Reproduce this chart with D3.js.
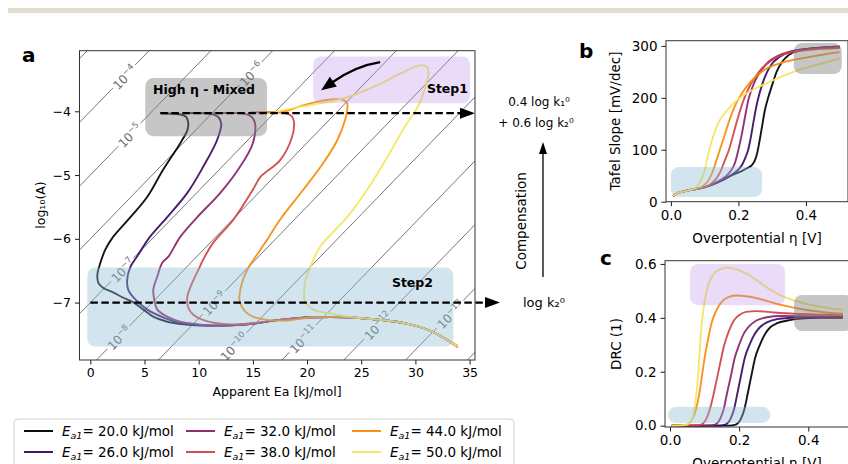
<!DOCTYPE html>
<html>
<head>
<meta charset="utf-8">
<script src="https://cdnjs.cloudflare.com/ajax/libs/d3/7.8.5/d3.min.js"></script>
<style>
  body { margin: 0; background: #fff; }
  text { font-family: "DejaVu Sans", sans-serif; }
</style>
</head>
<body>
<svg id="fig" width="848" height="464"></svg>
<script>
// ---------------- data ----------------
var ea1Values = [20, 26, 32, 38, 44, 50];

// panel a : apparent Ea [kJ/mol] vs log10(A), traced from high eta end to low eta end
var tailA = [[10.8,-7.36],[14.5,-7.34],[17.5,-7.27],[20.6,-7.23],[23.7,-7.23],[26.75,-7.27],[29.2,-7.33],[31.5,-7.45],[33.9,-7.69]];
var compA20 = [[6.46,-4.03],[8.3,-4.05],[8.86,-4.09],[9.04,-4.19],[8.95,-4.3],[8.3,-4.5],[6.7,-4.92],[5.26,-5.34],[3.7,-5.66],[2.1,-5.97],[1.38,-6.17],[0.92,-6.38],[0.65,-6.56],[0.74,-6.69],[1.2,-6.77],[2.1,-6.84],[3.0,-6.92],[4.0,-7.0],[4.9,-7.11],[5.8,-7.22],[7.1,-7.3],[8.6,-7.34]].concat(tailA);
var compA26 = [[8.76,-4.03],[11.07,-4.04],[11.8,-4.09],[12.08,-4.19],[11.7,-4.45],[10.4,-4.875],[8.95,-5.28],[7.1,-5.66],[5.5,-5.97],[4.3,-6.28],[3.7,-6.44],[3.4,-6.64],[3.5,-6.8],[4.15,-6.95],[5.26,-7.11],[6.7,-7.23],[8.6,-7.33]].concat(tailA);
var compA32 = [[11.35,-4.03],[14.3,-4.04],[14.9,-4.09],[15.2,-4.19],[15.0,-4.5],[13.8,-4.875],[12.0,-5.28],[9.87,-5.66],[8.3,-5.97],[7.2,-6.28],[6.64,-6.375],[6.18,-6.59],[5.81,-6.8],[5.9,-6.95],[6.18,-7.11],[7.1,-7.22],[8.3,-7.3],[9.87,-7.34]].concat(tailA);
var compA38 = [[14.76,-4.02],[17.99,-4.03],[18.6,-4.08],[18.8,-4.17],[18.6,-4.41],[17.5,-4.77],[15.7,-5.03],[15.0,-5.23],[13.2,-5.7],[11.35,-6.06],[10.4,-6.33],[10.1,-6.44],[9.4,-6.69],[8.95,-6.91],[9.04,-7.08],[9.5,-7.19],[10.4,-7.27],[12.0,-7.33],[13.8,-7.34]].concat(tailA.slice(2));
var compA44 = [[16.1,-4.02],[18.0,-4.0],[19.4,-3.92],[21.2,-3.84],[23.1,-3.81],[23.7,-3.875],[23.7,-3.98],[23.5,-4.14],[22.8,-4.45],[21.5,-4.81],[19.65,-5.23],[17.5,-5.7],[16.3,-6.02],[15.7,-6.17],[14.5,-6.48],[14.0,-6.69],[13.75,-6.91],[13.8,-7.0],[14.3,-7.14],[15.0,-7.22],[16.3,-7.27],[18.2,-7.28]].concat(tailA.slice(3));
var compA50 = [[17.07,-4.01],[18.7,-3.95],[21.2,-3.875],[23.7,-3.78],[26.5,-3.59],[28.6,-3.41],[30.4,-3.28],[31.1,-3.31],[31.2,-3.41],[30.9,-3.625],[30.2,-3.94],[29.2,-4.19],[27.4,-4.72],[25.55,-5.23],[23.7,-5.66],[21.2,-6.125],[20.3,-6.44],[19.8,-6.69],[19.74,-6.84],[19.8,-6.98],[20.6,-7.11],[22.1,-7.17],[23.7,-7.22],[26.75,-7.27],[29.2,-7.33],[31.5,-7.45],[33.9,-7.69]];

// iso-rate lines log10 k, and where their labels sit (Ea)
var isoLevels = [-3, -4, -5, -6, -7, -8, -9, -10, -11, -12, -13, -14];
var isoLabelLevels = [-4, -5, -6, -7, -8, -9, -10, -11, -12, -13];
var isoLabelEa = [3.1, 3.6, 14.8, 2.95, 2.6, 11.4, 13.2, 19.6, 26.5, 33.2];

// panel b : Tafel slope [mV/dec] vs overpotential [V]
var tafel20 = [[0.007,11],[0.02,17],[0.04,20],[0.06,23],[0.08,25],[0.106,29],[0.13,35],[0.155,42],[0.175,49],[0.195,55],[0.21,59],[0.224,64],[0.239,70],[0.249,80],[0.256,95],[0.262,115],[0.27,145],[0.278,175],[0.288,200],[0.3,225],[0.313,250],[0.33,270],[0.35,283],[0.38,291],[0.42,295],[0.46,297],[0.5,298]];
var tafel26 = [[0.007,11],[0.02,17],[0.04,20],[0.06,23],[0.08,25],[0.106,29],[0.13,35],[0.155,43],[0.175,50],[0.19,56],[0.2,62],[0.21,70],[0.22,84],[0.229,100],[0.237,125],[0.245,155],[0.252,180],[0.259,200],[0.27,225],[0.285,250],[0.3,266],[0.32,278],[0.35,288],[0.4,294],[0.45,297],[0.5,299]];
var tafel32 = [[0.007,11],[0.02,17],[0.04,20],[0.06,23],[0.08,25],[0.106,29],[0.13,36],[0.15,43],[0.165,50],[0.178,60],[0.19,75],[0.2,100],[0.21,130],[0.22,165],[0.229,195],[0.24,218],[0.255,240],[0.27,255],[0.29,270],[0.32,282],[0.36,290],[0.42,295],[0.5,298]];
var tafel38 = [[0.007,11],[0.02,17],[0.04,20],[0.06,23],[0.08,25],[0.106,29],[0.12,35],[0.135,45],[0.148,60],[0.16,80],[0.172,100],[0.185,130],[0.2,165],[0.215,195],[0.23,218],[0.25,240],[0.27,257],[0.3,273],[0.34,285],[0.4,292],[0.5,296]];
var tafel44 = [[0.007,11],[0.02,17],[0.04,20],[0.06,23],[0.08,25],[0.095,30],[0.11,40],[0.125,60],[0.135,80],[0.145,100],[0.16,130],[0.175,160],[0.19,185],[0.205,203],[0.225,222],[0.25,240],[0.28,255],[0.32,266],[0.37,274],[0.43,281],[0.5,288]];
var tafel50 = [[0.007,11],[0.02,17],[0.04,20],[0.06,23],[0.075,28],[0.09,42],[0.1,60],[0.11,90],[0.12,115],[0.13,135],[0.145,157],[0.165,175],[0.19,192],[0.215,205],[0.25,218],[0.29,230],[0.33,242],[0.38,254],[0.44,265],[0.5,276]];

// panel c : degree of rate control vs overpotential [V]
var drc20 = [[0.005,0],[0.17,0],[0.19,0.004],[0.205,0.025],[0.215,0.06],[0.225,0.12],[0.236,0.19],[0.246,0.25],[0.26,0.3],[0.275,0.34],[0.29,0.365],[0.31,0.38],[0.34,0.39],[0.38,0.397],[0.43,0.4],[0.5,0.4]];
var drc26 = [[0.005,0],[0.14,0],[0.16,0.004],[0.175,0.025],[0.185,0.06],[0.195,0.12],[0.206,0.19],[0.216,0.25],[0.23,0.3],[0.245,0.34],[0.26,0.365],[0.28,0.383],[0.31,0.395],[0.35,0.4],[0.4,0.402],[0.5,0.402]];
var drc32 = [[0.005,0],[0.11,0],[0.13,0.004],[0.145,0.025],[0.155,0.06],[0.165,0.12],[0.177,0.19],[0.187,0.25],[0.2,0.3],[0.215,0.345],[0.23,0.37],[0.25,0.39],[0.28,0.402],[0.32,0.407],[0.38,0.406],[0.5,0.404]];
var drc38 = [[0.005,0],[0.07,0],[0.09,0.004],[0.105,0.025],[0.115,0.06],[0.125,0.11],[0.135,0.17],[0.145,0.23],[0.157,0.3],[0.17,0.35],[0.185,0.39],[0.2,0.41],[0.22,0.422],[0.25,0.425],[0.3,0.42],[0.36,0.415],[0.43,0.412],[0.5,0.41]];
var drc44 = [[0.005,0],[0.03,0],[0.05,0.004],[0.065,0.025],[0.075,0.06],[0.085,0.12],[0.093,0.19],[0.1,0.25],[0.11,0.32],[0.12,0.38],[0.135,0.43],[0.15,0.46],[0.17,0.478],[0.195,0.483],[0.22,0.48],[0.26,0.47],[0.3,0.455],[0.35,0.44],[0.4,0.428],[0.45,0.42],[0.5,0.415]];
var drc50 = [[0.005,0],[0.03,0.001],[0.05,0.005],[0.06,0.015],[0.068,0.04],[0.075,0.1],[0.08,0.17],[0.086,0.28],[0.092,0.38],[0.1,0.46],[0.11,0.52],[0.125,0.56],[0.145,0.58],[0.165,0.587],[0.19,0.581],[0.22,0.565],[0.25,0.54],[0.28,0.513],[0.31,0.49],[0.35,0.468],[0.4,0.45],[0.45,0.438],[0.5,0.43]];

var compA = [compA20, compA26, compA32, compA38, compA44, compA50];
var tafel = [tafel20, tafel26, tafel32, tafel38, tafel44, tafel50];
var drc = [drc20, drc26, drc32, drc38, drc44, drc50];

// ---------------- drawing ----------------
var colors = ea1Values.map(function(d, i) { return d3.interpolateInferno(i * 0.186); });
var svg = d3.select('#fig');

// thin beige strip at the top
svg.append('rect').attr('x', 8).attr('y', 8).attr('width', 840).attr('height', 5).attr('fill', '#e2ddcc');

function drawAxes(g, x, y, xticks, yticks, xfmt, yfmt, fs) {
    var xr = x.range(), yr = y.range();
    var ax = g.append('g').attr('transform', 'translate(0,' + yr[0] + ')')
        .call(d3.axisBottom(x).tickValues(xticks).tickFormat(xfmt).tickSize(4.5).tickPadding(4));
    var ay = g.append('g').attr('transform', 'translate(' + xr[0] + ',0)')
        .call(d3.axisLeft(y).tickValues(yticks).tickFormat(yfmt).tickSize(4.5).tickPadding(4));
    [ax, ay].forEach(function(a) {
        a.select('.domain').remove();
        a.attr('font-size', fs).attr('font-family', 'DejaVu Sans');
        a.selectAll('line').attr('stroke', '#000').attr('stroke-width', 0.9);
    });
    g.append('rect')
        .attr('x', xr[0]).attr('y', yr[1])
        .attr('width', xr[1] - xr[0]).attr('height', yr[0] - yr[1])
        .attr('fill', 'none').attr('stroke', '#333').attr('stroke-width', 1);
}

function roundBox(g, x, y, x0, x1, y0, y1, fill, op) {
    g.append('rect')
        .attr('x', x(x0)).attr('y', y(y1))
        .attr('width', x(x1) - x(x0)).attr('height', y(y0) - y(y1))
        .attr('rx', 8).attr('ry', 8)
        .attr('fill', fill).attr('fill-opacity', op);
}

function arrowHead(g, tip, dir, len, half) {
    var n = Math.hypot(dir[0], dir[1]), ux = dir[0] / n, uy = dir[1] / n;
    var bx = tip[0] - ux * len, by = tip[1] - uy * len;
    g.append('path')
        .attr('d', 'M' + tip[0] + ',' + tip[1] +
            'L' + (bx - uy * half) + ',' + (by + ux * half) +
            'L' + (bx + uy * half) + ',' + (by - ux * half) + 'Z')
        .attr('fill', '#000');
}

// ---------- panel a ----------
var xA = d3.scaleLinear().domain([-1, 35.5]).range([79.5, 475]);
var yA = d3.scaleLinear().domain([-7.9, -3.05]).range([360, 50.7]);
var gA = svg.append('g');
svg.append('clipPath').attr('id', 'clipA').append('rect')
    .attr('x', 79.5).attr('y', 50.7).attr('width', 395.5).attr('height', 309.3);
var plotA = gA.append('g').attr('clip-path', 'url(#clipA)');

// iso-rate lines: log k = log A - Ea/(ln10 R T), T = 298 K
var sIso = 1 / (Math.LN10 * 0.008314 * 298);
isoLevels.forEach(function(L) {
    var p0 = [xA(-1), yA(L - sIso)], p1 = [xA(35.5), yA(L + 35.5 * sIso)];
    var dx = p1[0] - p0[0], dy = p1[1] - p0[1], n = Math.hypot(dx, dy);
    var ux = dx / n, uy = dy / n;
    var li = isoLabelLevels.indexOf(L);
    var segs = [[p0, p1]];
    if (li >= 0) {
        var e = isoLabelEa[li];
        var pc = [xA(e), yA(L + e * sIso)];
        var gap = L <= -10 ? 19 : 16;
        segs = [[p0, [pc[0] - ux * gap, pc[1] - uy * gap]], [[pc[0] + ux * gap, pc[1] + uy * gap], p1]];
        var ang = Math.atan2(uy, ux) * 180 / Math.PI;
        var t = plotA.append('text')
            .attr('transform', 'translate(' + pc[0] + ',' + pc[1] + ') rotate(' + ang + ')')
            .attr('text-anchor', 'middle').attr('dy', '0.45em')
            .attr('font-size', 12).attr('fill', '#6f6f6f');
        t.append('tspan').text('10');
        t.append('tspan').attr('font-size', 8.5).attr('dy', -5).text('\u2212' + Math.abs(L));
    }
    segs.forEach(function(sg) {
        plotA.append('line')
            .attr('x1', sg[0][0]).attr('y1', sg[0][1]).attr('x2', sg[1][0]).attr('y2', sg[1][1])
            .attr('stroke', '#777').attr('stroke-width', 1);
    });
});

var lineA = d3.line().x(function(d) { return xA(d[0]); }).y(function(d) { return yA(d[1]); })
    .curve(d3.curveCatmullRom.alpha(0.5));
compA.forEach(function(c, i) {
    plotA.append('path').datum(c).attr('d', lineA)
        .attr('fill', 'none').attr('stroke', colors[i]).attr('stroke-width', 1.9).attr('stroke-opacity', 0.92);
});

// shaded regions
roundBox(gA, xA, yA, 5.07, 16.3, -4.39, -3.48, '#808080', 0.45);
roundBox(gA, xA, yA, 20.56, 35.05, -3.875, -3.14, '#b98ce8', 0.3);
roundBox(gA, xA, yA, -0.28, 33.5, -7.69, -6.45, '#8fbcd4', 0.4);

gA.append('text').attr('x', 153).attr('y', 94).attr('font-size', 12.5).attr('font-weight', 'bold').text('High \u03b7 - Mixed');
gA.append('text').attr('x', 468).attr('y', 93).attr('text-anchor', 'end').attr('font-size', 12.5).attr('font-weight', 'bold').text('Step1');
gA.append('text').attr('x', 433).attr('y', 287).attr('text-anchor', 'end').attr('font-size', 12.5).attr('font-weight', 'bold').text('Step2');

// dashed reference lines with arrows
var yTop = yA(-4.03), yBot = yA(-7);
gA.append('line').attr('x1', xA(6.46)).attr('x2', 462).attr('y1', yTop).attr('y2', yTop)
    .attr('stroke', '#000').attr('stroke-width', 2.2).attr('stroke-dasharray', '7.5,3.5');
arrowHead(gA, [475, yTop], [1, 0], 15, 5.5);
gA.append('line').attr('x1', xA(0)).attr('x2', 487).attr('y1', yBot).attr('y2', yBot)
    .attr('stroke', '#000').attr('stroke-width', 2.2).attr('stroke-dasharray', '7.5,3.5');
arrowHead(gA, [500, yBot], [1, 0], 15, 5.5);

// curved arrow in step1
var tail = [xA(26.75), yA(-3.23)], tip = [xA(21.3), yA(-3.67)], ctrl = [355, 66];
var hdir = [tip[0] - ctrl[0], tip[1] - ctrl[1]], hn = Math.hypot(hdir[0], hdir[1]);
var base = [tip[0] - hdir[0] / hn * 12, tip[1] - hdir[1] / hn * 12];
gA.append('path').attr('d', 'M' + tail[0] + ',' + tail[1] + 'Q' + ctrl[0] + ',' + ctrl[1] + ' ' + base[0] + ',' + base[1])
    .attr('fill', 'none').attr('stroke', '#000').attr('stroke-width', 2.2);
arrowHead(gA, tip, hdir, 15, 6);

drawAxes(gA, xA, yA, [0, 5, 10, 15, 20, 25, 30, 35], [-7, -6, -5, -4], d3.format('d'), d3.format('d'), 12.5);
gA.append('text').attr('x', 277).attr('y', 396).attr('text-anchor', 'middle').attr('font-size', 12.5).text('Apparent Ea [kJ/mol]');
gA.append('text').attr('transform', 'translate(45,205) rotate(-90)').attr('text-anchor', 'middle').attr('font-size', 12.5)
    .text('log\u2081\u2080(A)');
svg.append('text').attr('x', 22).attr('y', 62).attr('font-size', 20).attr('font-weight', 'bold').text('a');

// annotations to the right of panel a
svg.append('text').attr('x', 539).attr('y', 106).attr('text-anchor', 'middle').attr('font-size', 12).text('0.4 log k\u2081\u2070');
svg.append('text').attr('x', 536).attr('y', 127).attr('text-anchor', 'middle').attr('font-size', 12).text('+ 0.6 log k\u2082\u2070');
svg.append('text').attr('transform', 'translate(526,221) rotate(-90)').attr('text-anchor', 'middle').attr('font-size', 13.5).text('Compensation');
svg.append('line').attr('x1', 543).attr('x2', 543).attr('y1', 277).attr('y2', 152).attr('stroke', '#000').attr('stroke-width', 1.3);
arrowHead(svg, [543, 142], [0, -1], 12, 4);
svg.append('text').attr('x', 523).attr('y', 307).attr('font-size', 13).text('log k\u2082\u2070');

// ---------- panel b ----------
var xB = d3.scaleLinear().domain([-0.0145, 0.5245]).range([666, 848]);
var yB = d3.scaleLinear().domain([0, 310]).range([201.7, 40.7]);
var gB = svg.append('g');
var lineB = d3.line().x(function(d) { return xB(d[0]); }).y(function(d) { return yB(d[1]); }).curve(d3.curveMonotoneX);
tafel.forEach(function(c, i) {
    gB.append('path').datum(c).attr('d', lineB)
        .attr('fill', 'none').attr('stroke', colors[i]).attr('stroke-width', 1.9).attr('stroke-opacity', 0.92);
});
roundBox(gB, xB, yB, 0.364, 0.506, 245.8, 305.5, '#808080', 0.45);
roundBox(gB, xB, yB, 0.0, 0.27, 9, 67, '#8fbcd4', 0.4);
drawAxes(gB, xB, yB, [0, 0.2, 0.4], [0, 100, 200, 300], d3.format('.1f'), d3.format('d'), 13.5);
gB.append('text').attr('x', 757).attr('y', 243).attr('text-anchor', 'middle').attr('font-size', 13.5).text('Overpotential \u03b7 [V]');
gB.append('text').attr('transform', 'translate(620,121) rotate(-90)').attr('text-anchor', 'middle').attr('font-size', 13.5).text('Tafel Slope [mV/dec]');
svg.append('text').attr('x', 579).attr('y', 58).attr('font-size', 20).attr('font-weight', 'bold').text('b');

// ---------- panel c ----------
var xC = d3.scaleLinear().domain([-0.0145, 0.5245]).range([665, 851.3]);
var yC = d3.scaleLinear().domain([-0.005, 0.612]).range([427, 260.7]);
var gC = svg.append('g');
var lineC = d3.line().x(function(d) { return xC(d[0]); }).y(function(d) { return yC(d[1]); }).curve(d3.curveMonotoneX);
drc.forEach(function(c, i) {
    gC.append('path').datum(c).attr('d', lineC)
        .attr('fill', 'none').attr('stroke', colors[i]).attr('stroke-width', 1.9).attr('stroke-opacity', 0.92);
});
roundBox(gC, xC, yC, 0.058, 0.333, 0.447, 0.6, '#b98ce8', 0.3);
roundBox(gC, xC, yC, 0.359, 0.53, 0.351, 0.485, '#808080', 0.45);
roundBox(gC, xC, yC, -0.006, 0.29, 0.01, 0.07, '#8fbcd4', 0.4);
drawAxes(gC, xC, yC, [0, 0.2, 0.4], [0, 0.2, 0.4, 0.6], d3.format('.1f'), d3.format('.1f'), 13.5);
gC.append('text').attr('x', 757).attr('y', 468).attr('text-anchor', 'middle').attr('font-size', 13.5).text('Overpotential \u03b7 [V]');
gC.append('text').attr('transform', 'translate(621,344) rotate(-90)').attr('text-anchor', 'middle').attr('font-size', 13.5).text('DRC (1)');
svg.append('text').attr('x', 600).attr('y', 265).attr('font-size', 20).attr('font-weight', 'bold').text('c');

// ---------- legend ----------
var gL = svg.append('g');
gL.append('rect').attr('x', 14).attr('y', 419).attr('width', 500).attr('height', 60).attr('rx', 4)
    .attr('fill', '#fff').attr('stroke', '#d0d0d0').attr('stroke-width', 1);
var legLineX = [24, 186, 352], legTextX = [62, 224, 390], legRowY = [431, 452];
ea1Values.forEach(function(v, i) {
    var col = Math.floor(i / 2), row = i % 2;
    gL.append('line').attr('x1', legLineX[col]).attr('x2', legLineX[col] + 29)
        .attr('y1', legRowY[row]).attr('y2', legRowY[row])
        .attr('stroke', colors[i]).attr('stroke-width', 1.9);
    var t = gL.append('text').attr('x', legTextX[col]).attr('y', legRowY[row] + 4.5).attr('font-size', 13.5);
    t.append('tspan').attr('font-style', 'italic').text('E');
    t.append('tspan').attr('font-style', 'italic').attr('font-size', 9.5).attr('dy', 3).text('a1');
    t.append('tspan').attr('dy', -3).text('= ' + v.toFixed(1) + ' kJ/mol');
});
</script>
</body>
</html>
